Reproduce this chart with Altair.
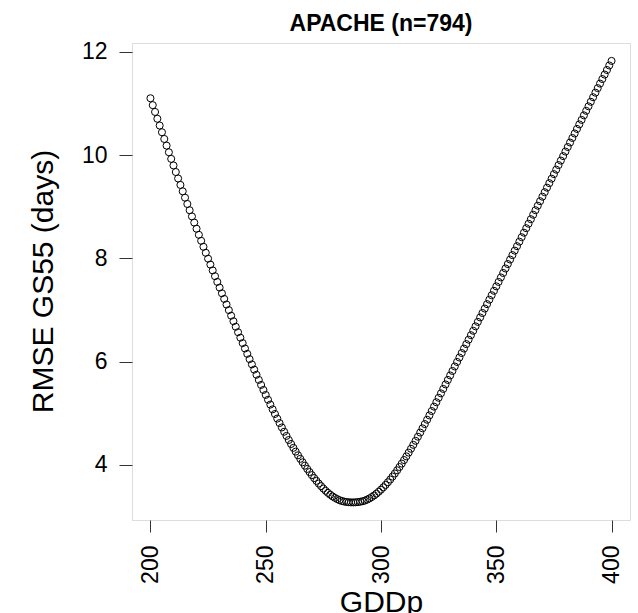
import altair as alt
import pandas as pd

TITLE = "APACHE (n=794)"
X_LABEL = "GDDp"
Y_LABEL = "RMSE GS55 (days)"

gddp = list(range(200, 401))

rmse = [
    11.100, 10.967, 10.835, 10.703, 10.572, 10.442, 10.312, 10.183, 10.054, 9.926, 9.799,
    9.672, 9.547, 9.422, 9.298, 9.175, 9.053, 8.932, 8.812, 8.693, 8.574,
    8.456, 8.340, 8.224, 8.108, 7.994, 7.880, 7.767, 7.655, 7.544, 7.434,
    7.324, 7.215, 7.106, 6.998, 6.890, 6.783, 6.676, 6.570, 6.464, 6.359,
    6.255, 6.151, 6.049, 5.947, 5.846, 5.746, 5.647, 5.549, 5.452, 5.356,
    5.262, 5.169, 5.077, 4.987, 4.898, 4.811, 4.726, 4.643, 4.562, 4.483,
    4.406, 4.331, 4.258, 4.187, 4.118, 4.051, 3.986, 3.923, 3.862, 3.803,
    3.746, 3.692, 3.640, 3.590, 3.543, 3.499, 3.459, 3.423, 3.391, 3.363,
    3.339, 3.318, 3.302, 3.291, 3.283, 3.278, 3.275, 3.275, 3.277, 3.281,
    3.288, 3.297, 3.310, 3.329, 3.352, 3.379, 3.409, 3.443, 3.481, 3.522,
    3.567, 3.614, 3.665, 3.718, 3.775, 3.834, 3.896, 3.960, 4.026, 4.095,
    4.166, 4.239, 4.313, 4.389, 4.467, 4.547, 4.627, 4.709, 4.791, 4.875,
    4.959, 5.044, 5.129, 5.214, 5.300, 5.386, 5.472, 5.559, 5.646, 5.733,
    5.820, 5.907, 5.994, 6.080, 6.167, 6.253, 6.340, 6.426, 6.512, 6.598,
    6.684, 6.770, 6.856, 6.942, 7.028, 7.114, 7.200, 7.286, 7.372, 7.458,
    7.544, 7.631, 7.717, 7.804, 7.890, 7.977, 8.063, 8.150, 8.236, 8.323,
    8.410, 8.497, 8.584, 8.671, 8.758, 8.845, 8.932, 9.020, 9.107, 9.194,
    9.281, 9.369, 9.456, 9.543, 9.631, 9.718, 9.806, 9.893, 9.980, 10.068,
    10.156, 10.243, 10.331, 10.418, 10.506, 10.594, 10.681, 10.769, 10.857, 10.944,
    11.032, 11.120, 11.208, 11.296, 11.384, 11.472, 11.559, 11.647, 11.735, 11.823,
]

x_ticks = [200, 250, 300, 350, 400]
y_ticks = [4, 6, 8, 10, 12]

assert len(gddp) == len(rmse)
df = pd.DataFrame({"GDDp": gddp, "RMSE": rmse})

FONT = "Liberation Sans"

chart = (
    alt.Chart(df)
    .mark_point(shape="circle", filled=False, color="black", size=50, strokeWidth=1, opacity=1)
    .encode(
        x=alt.X(
            "GDDp:Q",
            scale=alt.Scale(domain=[192, 408], nice=False, zero=False),
            axis=alt.Axis(
                values=x_ticks,
                title=X_LABEL,
                labelAngle=270,
                labelFontSize=23,
                labelFont=FONT,
                labelColor="black",
                labelPadding=13,
                tickSize=12,
                tickColor="#333",
                domain=False,
                grid=False,
                titleFont=FONT,
                titleFontSize=30,
                titleFontWeight="normal",
                titleColor="black",
                titleBaseline="alphabetic",
                titleY=91,
            ),
        ),
        y=alt.Y(
            "RMSE:Q",
            scale=alt.Scale(domain=[2.934, 12.17], nice=False, zero=False),
            axis=alt.Axis(
                values=y_ticks,
                title=Y_LABEL,
                labelAngle=0,
                labelFontSize=23,
                labelFont=FONT,
                labelColor="black",
                labelPadding=12,
                tickSize=13,
                tickColor="#333",
                domain=False,
                grid=False,
                titleFont=FONT,
                titleFontSize=30,
                titleFontWeight="normal",
                titleColor="black",
                titleBaseline="alphabetic",
                titleAngle=270,
                titleX=-80,
                titleY=238,
            ),
        ),
    )
    .properties(
        width=498,
        height=477,
        title=alt.TitleParams(
            TITLE,
            font=FONT,
            fontSize=23,
            fontWeight="bold",
            color="black",
            anchor="middle",
            frame="group",
            baseline="alphabetic",
            offset=12,
            dy=25,
        ),
        autosize=alt.AutoSizeParams(type="none"),
        padding={"left": 132, "top": 43, "right": 8, "bottom": 93},
    )
    .configure_view(stroke="#333", strokeWidth=1)
    .configure(background="white")
)

chart.save("out.html", embed_options={"renderer": "svg", "actions": False})
